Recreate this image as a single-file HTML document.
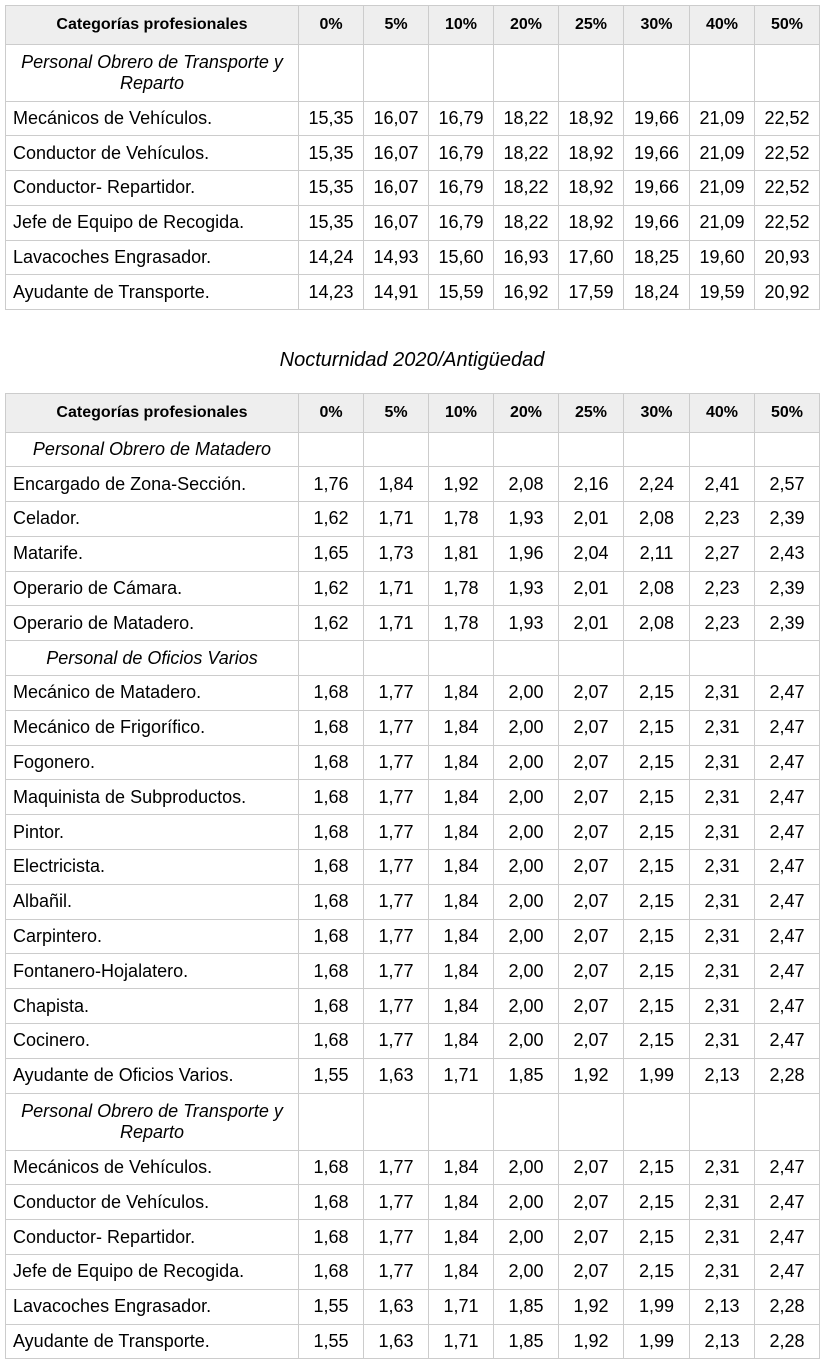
<!DOCTYPE html>
<html>
<head>
<meta charset="utf-8">
<style>
  html, body { margin:0; padding:0; background:#fff; }
  body { width:821px; height:1362px; position:relative; overflow:hidden;
         font-family:"Liberation Sans", Arial, sans-serif; color:#000; }
  table { position:absolute; left:5px; border-collapse:collapse; table-layout:fixed; width:814px; }
  td, th { border:1px solid #cccccc; padding:0 7px; font-size:18px; text-align:center; vertical-align:middle; white-space:nowrap; overflow:hidden; }
  th { background:#eeeeee; font-size:16px; font-weight:bold; }
  td.l { text-align:left; }
  td.s { font-style:italic; white-space:normal; line-height:21px; }
  tr { height:34.8px; }
  tr.h { height:38.5px; }
  tr.t { height:57px; }
  .title { position:absolute; left:5px; width:814px; top:345px; height:30px; line-height:30px;
           text-align:center; font-style:italic; font-size:20px; }
</style>
</head>
<body>

<table style="top:5px;">
  <colgroup>
    <col style="width:293px"><col style="width:65px"><col style="width:65px"><col style="width:65px"><col style="width:65px"><col style="width:65px"><col style="width:66px"><col style="width:65px"><col style="width:65px">
  </colgroup>
  <tr class="h"><th>Categorías profesionales</th><th>0%</th><th>5%</th><th>10%</th><th>20%</th><th>25%</th><th>30%</th><th>40%</th><th>50%</th></tr>
  <tr class="t"><td class="s">Personal Obrero de Transporte y Reparto</td><td></td><td></td><td></td><td></td><td></td><td></td><td></td><td></td></tr>
  <tr><td class="l">Mecánicos de Vehículos.</td><td>15,35</td><td>16,07</td><td>16,79</td><td>18,22</td><td>18,92</td><td>19,66</td><td>21,09</td><td>22,52</td></tr>
  <tr><td class="l">Conductor de Vehículos.</td><td>15,35</td><td>16,07</td><td>16,79</td><td>18,22</td><td>18,92</td><td>19,66</td><td>21,09</td><td>22,52</td></tr>
  <tr><td class="l">Conductor- Repartidor.</td><td>15,35</td><td>16,07</td><td>16,79</td><td>18,22</td><td>18,92</td><td>19,66</td><td>21,09</td><td>22,52</td></tr>
  <tr><td class="l">Jefe de Equipo de Recogida.</td><td>15,35</td><td>16,07</td><td>16,79</td><td>18,22</td><td>18,92</td><td>19,66</td><td>21,09</td><td>22,52</td></tr>
  <tr><td class="l">Lavacoches Engrasador.</td><td>14,24</td><td>14,93</td><td>15,60</td><td>16,93</td><td>17,60</td><td>18,25</td><td>19,60</td><td>20,93</td></tr>
  <tr><td class="l">Ayudante de Transporte.</td><td>14,23</td><td>14,91</td><td>15,59</td><td>16,92</td><td>17,59</td><td>18,24</td><td>19,59</td><td>20,92</td></tr>
</table>

<div class="title">Nocturnidad 2020/Antigüedad</div>

<table style="top:393px;">
  <colgroup>
    <col style="width:293px"><col style="width:65px"><col style="width:65px"><col style="width:65px"><col style="width:65px"><col style="width:65px"><col style="width:66px"><col style="width:65px"><col style="width:65px">
  </colgroup>
  <tr class="h"><th>Categorías profesionales</th><th>0%</th><th>5%</th><th>10%</th><th>20%</th><th>25%</th><th>30%</th><th>40%</th><th>50%</th></tr>
  <tr><td class="s">Personal Obrero de Matadero</td><td></td><td></td><td></td><td></td><td></td><td></td><td></td><td></td></tr>
  <tr><td class="l">Encargado de Zona-Sección.</td><td>1,76</td><td>1,84</td><td>1,92</td><td>2,08</td><td>2,16</td><td>2,24</td><td>2,41</td><td>2,57</td></tr>
  <tr><td class="l">Celador.</td><td>1,62</td><td>1,71</td><td>1,78</td><td>1,93</td><td>2,01</td><td>2,08</td><td>2,23</td><td>2,39</td></tr>
  <tr><td class="l">Matarife.</td><td>1,65</td><td>1,73</td><td>1,81</td><td>1,96</td><td>2,04</td><td>2,11</td><td>2,27</td><td>2,43</td></tr>
  <tr><td class="l">Operario de Cámara.</td><td>1,62</td><td>1,71</td><td>1,78</td><td>1,93</td><td>2,01</td><td>2,08</td><td>2,23</td><td>2,39</td></tr>
  <tr><td class="l">Operario de Matadero.</td><td>1,62</td><td>1,71</td><td>1,78</td><td>1,93</td><td>2,01</td><td>2,08</td><td>2,23</td><td>2,39</td></tr>
  <tr><td class="s">Personal de Oficios Varios</td><td></td><td></td><td></td><td></td><td></td><td></td><td></td><td></td></tr>
  <tr><td class="l">Mecánico de Matadero.</td><td>1,68</td><td>1,77</td><td>1,84</td><td>2,00</td><td>2,07</td><td>2,15</td><td>2,31</td><td>2,47</td></tr>
  <tr><td class="l">Mecánico de Frigorífico.</td><td>1,68</td><td>1,77</td><td>1,84</td><td>2,00</td><td>2,07</td><td>2,15</td><td>2,31</td><td>2,47</td></tr>
  <tr><td class="l">Fogonero.</td><td>1,68</td><td>1,77</td><td>1,84</td><td>2,00</td><td>2,07</td><td>2,15</td><td>2,31</td><td>2,47</td></tr>
  <tr><td class="l">Maquinista de Subproductos.</td><td>1,68</td><td>1,77</td><td>1,84</td><td>2,00</td><td>2,07</td><td>2,15</td><td>2,31</td><td>2,47</td></tr>
  <tr><td class="l">Pintor.</td><td>1,68</td><td>1,77</td><td>1,84</td><td>2,00</td><td>2,07</td><td>2,15</td><td>2,31</td><td>2,47</td></tr>
  <tr><td class="l">Electricista.</td><td>1,68</td><td>1,77</td><td>1,84</td><td>2,00</td><td>2,07</td><td>2,15</td><td>2,31</td><td>2,47</td></tr>
  <tr><td class="l">Albañil.</td><td>1,68</td><td>1,77</td><td>1,84</td><td>2,00</td><td>2,07</td><td>2,15</td><td>2,31</td><td>2,47</td></tr>
  <tr><td class="l">Carpintero.</td><td>1,68</td><td>1,77</td><td>1,84</td><td>2,00</td><td>2,07</td><td>2,15</td><td>2,31</td><td>2,47</td></tr>
  <tr><td class="l">Fontanero-Hojalatero.</td><td>1,68</td><td>1,77</td><td>1,84</td><td>2,00</td><td>2,07</td><td>2,15</td><td>2,31</td><td>2,47</td></tr>
  <tr><td class="l">Chapista.</td><td>1,68</td><td>1,77</td><td>1,84</td><td>2,00</td><td>2,07</td><td>2,15</td><td>2,31</td><td>2,47</td></tr>
  <tr><td class="l">Cocinero.</td><td>1,68</td><td>1,77</td><td>1,84</td><td>2,00</td><td>2,07</td><td>2,15</td><td>2,31</td><td>2,47</td></tr>
  <tr><td class="l">Ayudante de Oficios Varios.</td><td>1,55</td><td>1,63</td><td>1,71</td><td>1,85</td><td>1,92</td><td>1,99</td><td>2,13</td><td>2,28</td></tr>
  <tr class="t"><td class="s">Personal Obrero de Transporte y Reparto</td><td></td><td></td><td></td><td></td><td></td><td></td><td></td><td></td></tr>
  <tr><td class="l">Mecánicos de Vehículos.</td><td>1,68</td><td>1,77</td><td>1,84</td><td>2,00</td><td>2,07</td><td>2,15</td><td>2,31</td><td>2,47</td></tr>
  <tr><td class="l">Conductor de Vehículos.</td><td>1,68</td><td>1,77</td><td>1,84</td><td>2,00</td><td>2,07</td><td>2,15</td><td>2,31</td><td>2,47</td></tr>
  <tr><td class="l">Conductor- Repartidor.</td><td>1,68</td><td>1,77</td><td>1,84</td><td>2,00</td><td>2,07</td><td>2,15</td><td>2,31</td><td>2,47</td></tr>
  <tr><td class="l">Jefe de Equipo de Recogida.</td><td>1,68</td><td>1,77</td><td>1,84</td><td>2,00</td><td>2,07</td><td>2,15</td><td>2,31</td><td>2,47</td></tr>
  <tr><td class="l">Lavacoches Engrasador.</td><td>1,55</td><td>1,63</td><td>1,71</td><td>1,85</td><td>1,92</td><td>1,99</td><td>2,13</td><td>2,28</td></tr>
  <tr><td class="l">Ayudante de Transporte.</td><td>1,55</td><td>1,63</td><td>1,71</td><td>1,85</td><td>1,92</td><td>1,99</td><td>2,13</td><td>2,28</td></tr>
</table>

</body>
</html>
